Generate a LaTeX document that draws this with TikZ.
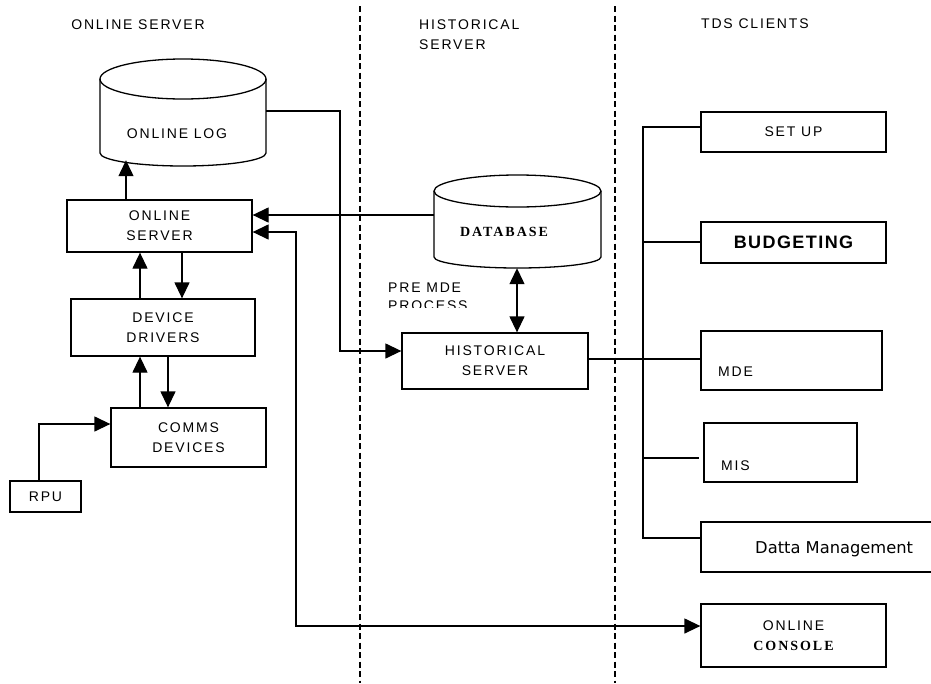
\documentclass[tikz,border=0pt]{standalone}
\usepackage{fontspec}
\setmainfont{Liberation Sans}
\newfontfamily\capsfont[LetterSpace=13]{Liberation Sans}
\newfontfamily\boldserif[LetterSpace=14]{Liberation Serif}
\newfontfamily\budgetfont[LetterSpace=8]{Liberation Sans}
\newfontfamily\dattafont{DejaVu Sans}
\newcommand{\cpt}{\capsfont\fontsize{14}{20}\selectfont}
\newcommand{\bsf}{\boldserif\bfseries\fontsize{14}{20}\selectfont}
\usetikzlibrary{arrows.meta}

\begin{document}
\begin{tikzpicture}[x=1pt,y=-1pt,
  ink/.style={line width=1.3pt, draw=black},
  box/.style={ink, inner sep=0pt, align=center, font=\cpt},
  hole/.style={inner sep=0pt},
  lbl/.style={inner sep=0pt, align=left, font=\cpt},
  arr/.style={ink, -{Triangle[length=16pt,width=15pt]}},
  dblarr/.style={ink, {Triangle[length=16pt,width=15pt]}-{Triangle[length=16pt,width=15pt]}},
  divider/.style={line width=1.1pt, draw=black, dash pattern=on 6pt off 3.5pt}
]
\useasboundingbox (0,0) rectangle (931,683);
\fill[white] (0,0) rectangle (931,683);
\clip (0,0) rectangle (931,683);

% column dividers
\coordinate (divAtop) at (360,6);
\coordinate (divAbot) at (360,683);
\coordinate (divBtop) at (615,6);
\coordinate (divBbot) at (615,683);
\draw[divider] (divAtop) -- (divAbot);
\draw[divider] (divBtop) -- (divBbot);

% column headings
\node[lbl] (headOnline) at (138,25) {ONLINE SERVER};
\node[lbl, anchor=west] (headHist) at (419,35) {HISTORICAL\\SERVER};
\node[lbl, anchor=west] (headTds) at (701,24) {TDS CLIENTS};

% online log cylinder
\draw[ink] (183,79) ellipse [x radius=83, y radius=20];
\draw[ink] (100,79) -- (100,153) arc[start angle=180, end angle=0, x radius=83, y radius=13] -- (266,79);
\node[hole, minimum width=166pt, minimum height=101pt] (log) at (183,109.5) {};
\node[lbl] (logText) at (177,134) {ONLINE LOG};

% database cylinder
\draw[ink] (517.5,191) ellipse [x radius=83.5, y radius=16];
\draw[ink] (434,191) -- (434,257) arc[start angle=180, end angle=0, x radius=83.5, y radius=11] -- (601,191);
\node[hole, minimum width=167pt, minimum height=93pt] (db) at (517.5,221.5) {};
\node[inner sep=0pt, font=\bsf] (dbText) at (504,232) {DATABASE};

% online server side
\node[box, minimum width=185pt, minimum height=52pt] (osrv) at (159.5,226) {ONLINE\\SERVER};
\node[box, minimum width=184pt, minimum height=57pt] (dd) at (163,327.5) {DEVICE\\DRIVERS};
\node[box, minimum width=155pt, minimum height=59pt] (comms) at (188.5,437.5) {COMMS\\DEVICES};
\node[box, minimum width=71pt, minimum height=31pt] (rpu) at (45.5,496.5) {RPU};

% historical server, with the lower half of the second caption line cut away
\node[box, minimum width=186pt, minimum height=56pt] (hs) at (495,361) {HISTORICAL\\SERVER};
\node[lbl, anchor=west] (premde) at (388,287.5) {PRE MDE};
\begin{scope}
  \clip (380,296) rectangle (480,307.5);
  \node[lbl, anchor=west] (process) at (388,306) {PROCESS};
\end{scope}

% client boxes
\node[box, minimum width=185pt, minimum height=40pt] (setup) at (793.5,132) {SET UP};
\node[box, minimum width=185pt, minimum height=41pt, font=\budgetfont\bfseries\fontsize{18}{20}\selectfont] (budget) at (793.5,242.5) {BUDGETING};
\node[box, minimum width=181pt, minimum height=59pt] (mde) at (791.5,360.5) {};
\node[lbl, anchor=west] (mdeText) at (718,372) {MDE};
\node[box, minimum width=153pt, minimum height=59pt] (mis) at (780.5,452.5) {};
\node[lbl, anchor=west] (misText) at (721,466) {MIS};
\node[box, minimum width=244pt, minimum height=50pt] (datta) at (823,547) {};
\node[inner sep=0pt, anchor=west, font=\dattafont\fontsize{16.3}{18}\selectfont] (dattaText) at (755,549) {Datta Management};
\node[box, minimum width=185pt, minimum height=63pt] (console) at (793.5,635.5) {ONLINE\\{\bsf CONSOLE}};

% online server connectors
\draw[arr] (osrv.north -| 126,0) -- (log.south -| 126,0);
\draw[arr] (log.east |- 0,111) -| (340,351) -- (hs.west |- 0,351);
\draw[arr] (db.west |- 0,215) -- (osrv.east |- 0,215);
\draw[dblarr] (osrv.east |- 0,232) -| (296,626) -- (console.west |- 0,626);
\draw[arr] (dd.north -| 140,0) -- (osrv.south -| 140,0);
\draw[arr] (osrv.south -| 182,0) -- (dd.north -| 182,0);
\draw[arr] (comms.north -| 140,0) -- (dd.south -| 140,0);
\draw[arr] (dd.south -| 168,0) -- (comms.north -| 168,0);
\draw[arr] (rpu.north -| 39,0) |- (comms.west |- 0,424);

% historical server connectors
\draw[dblarr] (db.south -| 517,0) -- (hs.north -| 517,0);
\draw[ink] (hs.east |- 0,359) -- (mde.west |- 0,359);

% client trunk and branches
\coordinate (trunkTop) at (643,127);
\coordinate (trunkBudget) at (643,242);
\coordinate (trunkMis) at (643,458);
\coordinate (trunkBot) at (643,538);
\draw[ink] (setup.west |- trunkTop) -- (trunkTop) -- (trunkBot) -- (datta.west |- trunkBot);
\draw[ink] (trunkBudget) -- (budget.west |- trunkBudget);
\draw[ink, shorten >=4pt] (trunkMis) -- (mis.west |- trunkMis);
\end{tikzpicture}
\end{document}
